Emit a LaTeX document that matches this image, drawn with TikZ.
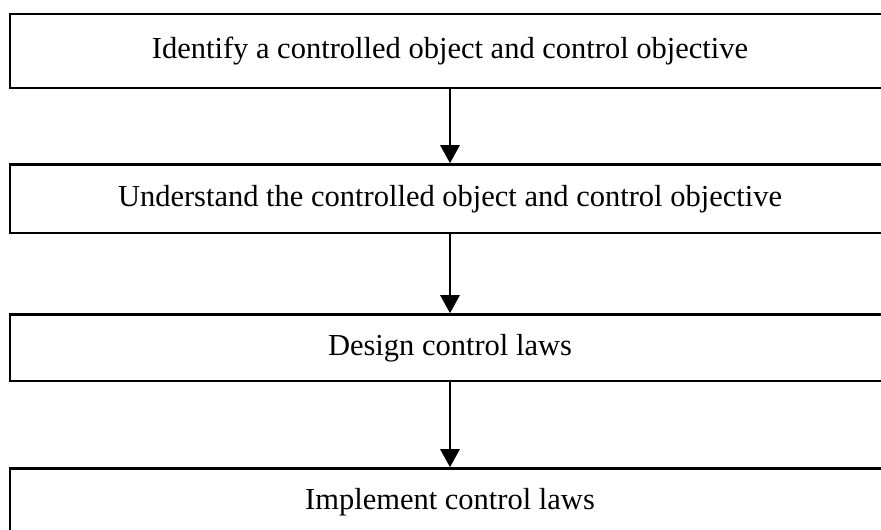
\documentclass[tikz,border=0pt]{standalone}
\usepackage{fontspec}
\setmainfont{Liberation Serif}
\usetikzlibrary{arrows.meta,positioning}
\tikzset{stepbox/.style={draw, line width=2.5pt, minimum width=880pt, inner sep=0pt,
                         font=\fontsize{30.5}{36}\selectfont},
         flow/.style={line width=2.5pt, -{Triangle[length=18pt,width=19pt]}}}

\begin{document}
\begin{tikzpicture}
    \useasboundingbox (0,0) rectangle (881pt,530pt);
    \node[stepbox, minimum height=74pt] (identify) at (450pt,479pt)
        {Identify a controlled object and control objective};
    \node[stepbox, minimum height=68.5pt] (understand) [below=74pt of identify]
        {Understand the controlled object and control objective};
    \node[stepbox, minimum height=66.5pt] (design) [below=79pt of understand]
        {Design control laws};
    \node[stepbox, minimum height=68pt] (implement) [below=85pt of design]
        {Implement control laws};

    \draw[flow] (identify) -- (understand);
    \draw[flow] (understand) -- (design);
    \draw[flow] (design) -- (implement);
\end{tikzpicture}
\end{document}
